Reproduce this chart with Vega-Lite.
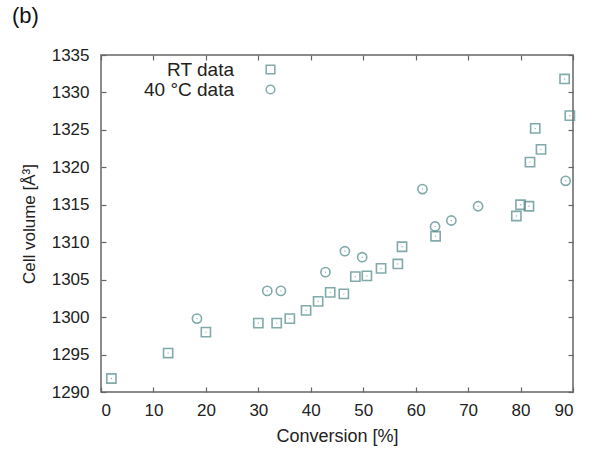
{
  "$schema": "https://vega.github.io/schema/vega-lite/v6.json",
  "width": 472,
  "height": 337,
  "autosize": {"type": "none"},
  "padding": {"left": 101, "top": 55, "right": 23, "bottom": 58},
  "background": "white",
  "title": {"text": "(b)", "anchor": "start", "frame": "group", "dx": -89, "offset": 18, "fontSize": 22, "font": "Liberation Sans", "fontWeight": "normal", "color": "#111"},
  "config": {
    "view": {"stroke": "#666", "strokeWidth": 1.5},
    "axis": {"grid": false, "domain": false, "tickColor": "#666", "tickWidth": 1.2, "tickSize": -5, "labelFont": "Liberation Sans", "labelFontSize": 17, "labelColor": "#222", "titleFont": "Liberation Sans", "titleFontSize": 17, "titleFontWeight": "normal", "titleColor": "#222"}
  },
  "data": {"values": [
    {"conv": 1.98, "vol": 1291.8, "series": "RT data"},
    {"conv": 12.8, "vol": 1295.2, "series": "RT data"},
    {"conv": 20.0, "vol": 1298.0, "series": "RT data"},
    {"conv": 30.0, "vol": 1299.2, "series": "RT data"},
    {"conv": 33.5, "vol": 1299.2, "series": "RT data"},
    {"conv": 36.0, "vol": 1299.8, "series": "RT data"},
    {"conv": 39.1, "vol": 1300.9, "series": "RT data"},
    {"conv": 41.4, "vol": 1302.1, "series": "RT data"},
    {"conv": 43.7, "vol": 1303.3, "series": "RT data"},
    {"conv": 46.3, "vol": 1303.1, "series": "RT data"},
    {"conv": 48.5, "vol": 1305.4, "series": "RT data"},
    {"conv": 50.7, "vol": 1305.5, "series": "RT data"},
    {"conv": 53.4, "vol": 1306.5, "series": "RT data"},
    {"conv": 56.6, "vol": 1307.1, "series": "RT data"},
    {"conv": 57.4, "vol": 1309.4, "series": "RT data"},
    {"conv": 63.8, "vol": 1310.8, "series": "RT data"},
    {"conv": 79.2, "vol": 1313.5, "series": "RT data"},
    {"conv": 80.0, "vol": 1315.0, "series": "RT data"},
    {"conv": 81.6, "vol": 1314.8, "series": "RT data"},
    {"conv": 81.8, "vol": 1320.7, "series": "RT data"},
    {"conv": 82.8, "vol": 1325.2, "series": "RT data"},
    {"conv": 83.9, "vol": 1322.4, "series": "RT data"},
    {"conv": 88.4, "vol": 1331.8, "series": "RT data"},
    {"conv": 89.4, "vol": 1326.9, "series": "RT data"},
    {"conv": 18.3, "vol": 1299.8, "series": "40 °C data"},
    {"conv": 31.7, "vol": 1303.5, "series": "40 °C data"},
    {"conv": 34.3, "vol": 1303.5, "series": "40 °C data"},
    {"conv": 42.8, "vol": 1306.0, "series": "40 °C data"},
    {"conv": 46.5, "vol": 1308.8, "series": "40 °C data"},
    {"conv": 49.8, "vol": 1308.0, "series": "40 °C data"},
    {"conv": 61.3, "vol": 1317.1, "series": "40 °C data"},
    {"conv": 63.7, "vol": 1312.1, "series": "40 °C data"},
    {"conv": 66.8, "vol": 1312.9, "series": "40 °C data"},
    {"conv": 71.9, "vol": 1314.8, "series": "40 °C data"},
    {"conv": 88.6, "vol": 1318.2, "series": "40 °C data"}
  ]},
  "resolve": {"axis": {"x": "independent", "y": "independent"}},
  "layer": [
    {
      "mark": {"type": "point", "filled": false, "strokeWidth": 1.6, "color": "#4e8788", "size": 85},
      "encoding": {
        "x": {"field": "conv", "type": "quantitative", "scale": {"domain": [0, 90], "nice": false, "zero": false}, "axis": {"orient": "bottom", "values": [0,10,20,30,40,50,60,70,80,90], "format": "d", "title": "Conversion [%]", "titleFontSize": 18, "labelPadding": 15, "titlePadding": 9}},
        "y": {"field": "vol", "type": "quantitative", "scale": {"domain": [1290, 1335], "nice": false, "zero": false}, "axis": {"orient": "left", "values": [1290,1295,1300,1305,1310,1315,1320,1325,1330,1335], "format": "d", "title": "Cell volume [Å³]", "labelPadding": 17, "titlePadding": 13}},
        "shape": {"field": "series", "type": "nominal", "scale": {"domain": ["RT data", "40 °C data"], "range": ["square", "circle"]},
          "legend": {"title": null, "orient": "none", "legendX": 160, "legendY": 5, "labelAlign": "right", "labelOffset": -46, "labelFont": "Liberation Sans", "labelFontSize": 19, "labelColor": "#222", "symbolSize": 75, "symbolStrokeWidth": 1.5, "symbolStrokeColor": "#4e8788", "rowPadding": 0, "labelLimit": 200}}
      }
    },
    {
      "mark": {"type": "point", "filled": true, "color": "#4e8788", "size": 2, "opacity": 0.6},
      "encoding": {
        "x": {"field": "conv", "type": "quantitative", "scale": {"domain": [0, 90], "nice": false, "zero": false}, "axis": {"orient": "top", "values": [0,10,20,30,40,50,60,70,80,90], "labels": false, "title": null}},
        "y": {"field": "vol", "type": "quantitative", "scale": {"domain": [1290, 1335], "nice": false, "zero": false}, "axis": {"orient": "right", "values": [1290,1295,1300,1305,1310,1315,1320,1325,1330,1335], "labels": false, "title": null}}
      }
    }
  ]
}
